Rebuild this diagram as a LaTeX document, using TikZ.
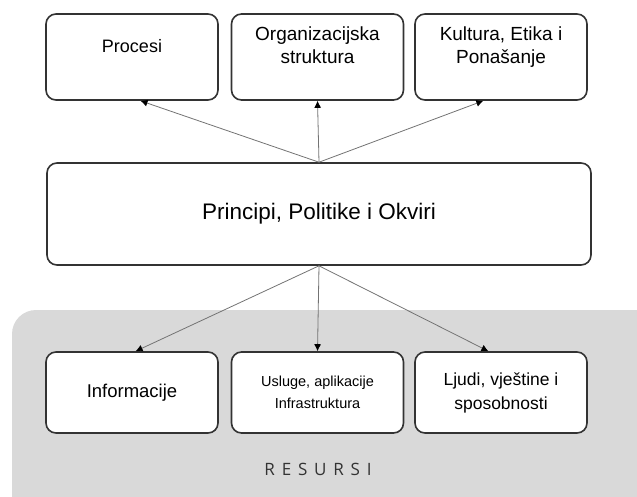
\documentclass[tikz,border=0pt]{standalone}
\usepackage{fontspec}
\usetikzlibrary{arrows.meta}
\setmainfont{Liberation Sans}
\newfontfamily\resfont[LetterSpace=40]{Open Sans}
\begin{document}
\begin{tikzpicture}[>={Latex[black, length=7pt, width=7pt]}, x=1pt, y=-1pt,
    okvir/.style={draw=black!80, line width=1.6pt, rounded corners=10pt, fill=white, align=center, inner sep=0pt, font=\fontsize{19}{23}\selectfont},
    mali/.style={okvir, minimum width=172pt, minimum height=86pt, text depth=23pt},
    donji/.style={okvir, minimum width=172pt, minimum height=81pt},
    veza/.style={->, draw=black!55, line width=0.8pt}]
    \useasboundingbox (0,0) rectangle (637,496);
    \fill[black!15, rounded corners=24pt] (12,310) rectangle (690,540); % podloga resursi
    \node[mali, font=\fontsize{18}{22}\selectfont] (procesi) at (132,57) {Procesi};
    \node[mali] (org) at (317.5,57) {Organizacijska\\struktura};
    \node[mali] (kultura) at (501,57) {Kultura, Etika i\\Ponašanje};
    \node[okvir, minimum width=544pt, minimum height=102pt, font=\fontsize{22.5}{26}\selectfont] (pp) at (319,214) {Principi, Politike i Okviri};
    \node[donji, font=\fontsize{18.5}{22}\selectfont] (info) at (132,392.5) {Informacije};
    \node[donji, font=\fontsize{14.5}{22}\selectfont] (usluge) at (317.5,392.5) {Usluge, aplikacije\\Infrastruktura};
    \node[donji, font=\fontsize{17.5}{24}\selectfont] (ljudi) at (501,392.5) {Ljudi, vještine i\\sposobnosti};
    \node[font=\fontsize{17}{20}\selectfont, text=black!80] (resursi) at (318,469) {\resfont RESURSI};
    \foreach \k/\a in {procesi/-79.5, org/-90, kultura/-112.7}{\draw[veza] (pp.north) -- (\k.\a);}
    \foreach \k/\a in {info/85.8, usluge/90, ljudi/107.8}{\draw[veza] (pp.south) -- (\k.\a);}
\end{tikzpicture}
\end{document}
